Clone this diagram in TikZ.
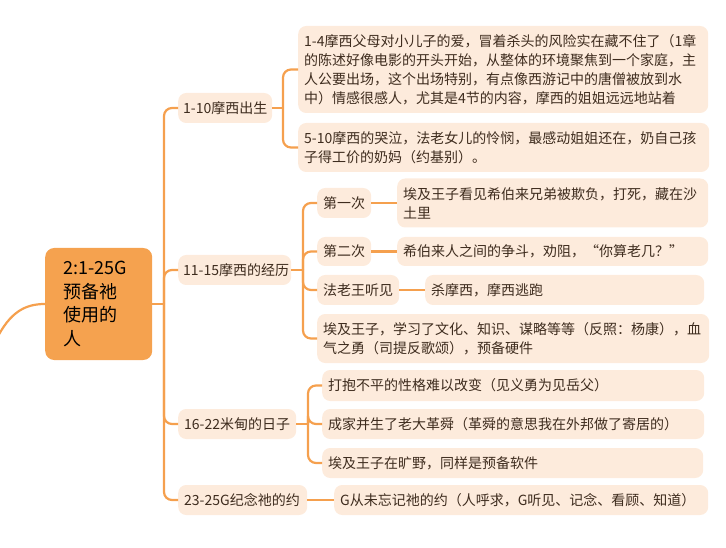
\documentclass[tikz,border=0pt]{standalone}
\usepackage{fontspec}
\setmainfont{Noto Sans CJK SC}
\definecolor{linkorange}{HTML}{F5A04E}
\definecolor{rootfill}{HTML}{F5A24F}
\definecolor{topicfill}{HTML}{FDEBDC}
\definecolor{topictext}{HTML}{3E2C1E}
\def\topicfont{\fontsize{14}{19}\selectfont\exhyphenpenalty=10000 }
\def\rootfont{\fontsize{18}{23.5}\selectfont\exhyphenpenalty=10000 }

\begin{document}
\begin{tikzpicture}[x=1pt, y=-1pt,
		link/.style={line width=2.2pt, color=linkorange, rounded corners=8pt},
		topic/.style={anchor=west, fill=topicfill, text=topictext, rounded corners=8pt, inner xsep=6pt, inner ysep=0pt, align=left, font=\topicfont},
		roottopic/.style={anchor=west, fill=rootfill, text=black, rounded corners=9pt, inner xsep=18pt, inner ysep=0pt, align=left, font=\rootfont}]
			%%%%% START %%%%%
			
			\useasboundingbox (0, 0) rectangle (726, 548);
			
			\node[roottopic, text width=71pt, minimum height=112pt] (root) at (45, 304) {2:1-25G\\预备祂\\使用的\\人};
			\coordinate (offleft) at (-4, 340);
			\draw[link] (root.west) .. controls (25, 304) and (10, 312) .. (offleft);
			
			\node[topic, text width=84pt, inner xsep=5pt, minimum height=30pt] (birth) at (178, 108) {1-10摩西出生};
			\node[topic, text width=103pt, inner xsep=5pt, minimum height=30pt] (exper) at (178, 270) {11-15摩西的经历};
			\node[topic, text width=106pt, minimum height=30pt] (midian) at (178, 424) {16-22米甸的日子};
			\node[topic, text width=117pt, minimum height=30pt] (covenant) at (178, 500) {23-25G纪念祂的约};
			
			\coordinate (trunk) at (164, 304);
			\draw[link] (root.east) -- (trunk);
			\draw[link] (trunk) |- (birth.west);
			\draw[link] (trunk) |- (exper.west);
			\draw[link] (trunk) |- (midian.west);
			\draw[link] (trunk) |- (covenant.west);
			
			% 1-10
			\node[topic, text width=398pt, minimum height=87pt] (birthA) at (298, 69.5) {1-4摩西父母对小儿子的爱，冒着杀头的风险实在藏不住了（1章\\的陈述好像电影的开头开始，从整体的环境聚焦到一个家庭，主\\人公要出场，这个出场特别，有点像西游记中的唐僧被放到水\\中）情感很感人，尤其是4节的内容，摩西的姐姐远远地站着};
			\node[topic, text width=399pt, minimum height=49pt] (birthB) at (298, 147.5) {5-10摩西的哭泣，法老女儿的怜悯，最感动姐姐还在，奶自己孩\\子得工价的奶妈（约基别）。};
			\coordinate (birthfork) at (283, 108);
			\draw[link] (birth.east) -- (birthfork);
			\draw[link] (birthfork) |- (birthA.west);
			\draw[link] (birthfork) |- (birthB.west);
			
			% 11-15
			\node[topic, text width=42pt, minimum height=30pt] (first) at (317, 203) {第一次};
			\node[topic, text width=299pt, minimum height=49pt] (firstA) at (397, 203) {埃及王子看见希伯来兄弟被欺负，打死，藏在沙\\土里};
			\node[topic, text width=42pt, minimum height=29pt] (second) at (317, 251.5) {第二次};
			\node[topic, text width=299pt, minimum height=29pt] (secondA) at (397, 251.5) {希伯来人之间的争斗，劝阻，“你算老几？”};
			\node[topic, text width=70pt, minimum height=30pt] (pharaoh) at (317, 290) {法老王听见};
			\node[topic, text width=267pt, minimum height=30pt] (pharaohA) at (425, 290) {杀摩西，摩西逃跑};
			\node[topic, text width=380pt, minimum height=49pt] (prince) at (317, 338.5) {埃及王子，学习了文化、知识、谋略等等（反照：杨康），血\\气之勇（司提反歌颂），预备硬件};
			\coordinate (experfork) at (303, 270);
			\draw[link] (exper.east) -- (experfork);
			\draw[link] (experfork) |- (first.west);
			\draw[link] (experfork) |- (second.west);
			\draw[link] (experfork) |- (pharaoh.west);
			\draw[link] (experfork) |- (prince.west);
			\draw[link] (first.east) -- (firstA.west);
			\draw[link] (second.east) -- (secondA.west);
			\draw[link] (pharaoh.east) -- (pharaohA.west);
			
			% 16-22
			\node[topic, text width=370pt, minimum height=31pt] (midianA) at (322, 385.5) {打抱不平的性格难以改变（见义勇为见岳父）};
			\node[topic, text width=370pt, minimum height=30pt] (midianB) at (322, 424) {成家并生了老大革舜（革舜的意思我在外邦做了寄居的）};
			\node[topic, text width=369pt, minimum height=30pt] (midianC) at (322, 463) {埃及王子在旷野，同样是预备软件};
			\coordinate (midianfork) at (308, 424);
			\draw[link] (midian.east) -- (midianfork);
			\draw[link] (midianfork) |- (midianA.west);
			\draw[link] (midianfork) |- (midianB.west);
			\draw[link] (midianfork) |- (midianC.west);
			
			% 23-25
			\node[topic, text width=362pt, minimum height=30pt] (covenantA) at (334, 500) {G从未忘记祂的约（人呼求，G听见、记念、看顾、知道）};
			\draw[link] (covenant.east) -- (covenantA.west);
			
			%%%%% END %%%%%
\end{tikzpicture}
\end{document}
